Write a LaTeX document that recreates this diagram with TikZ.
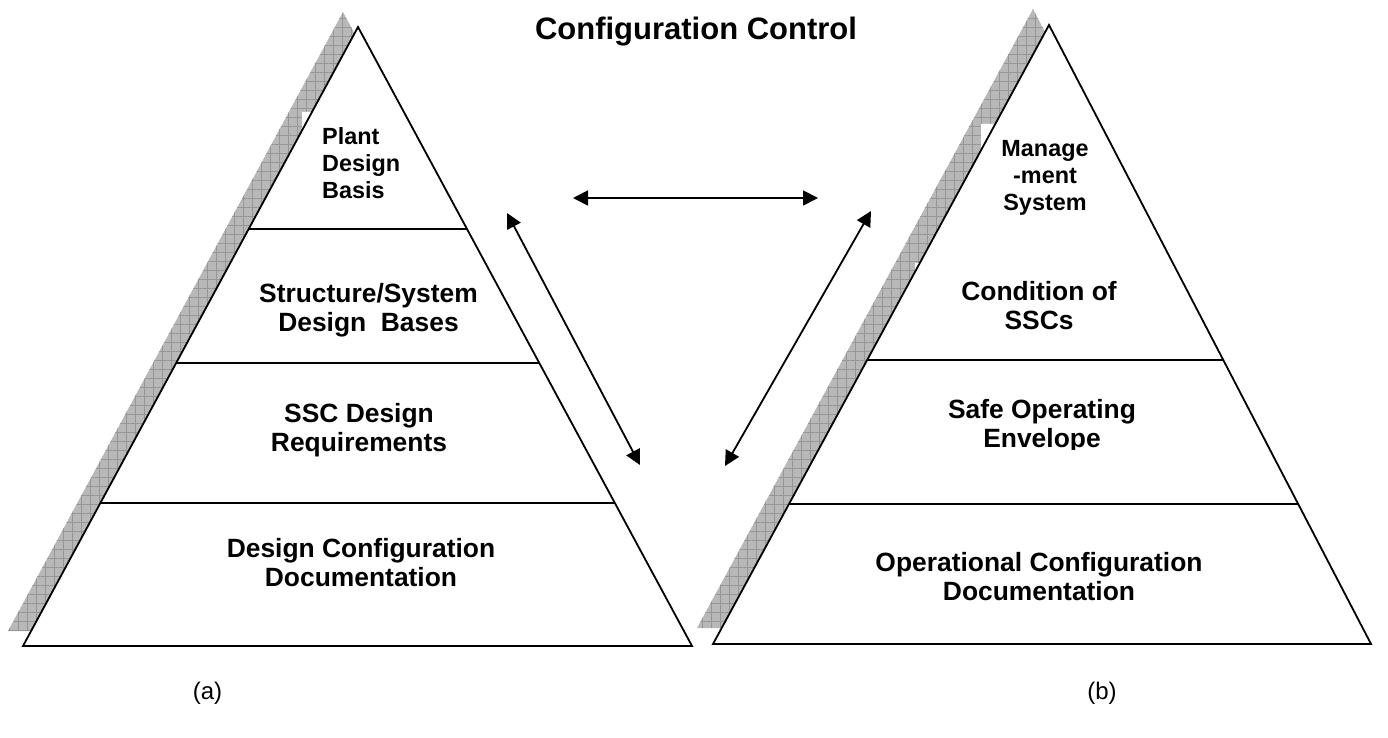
\documentclass[tikz,border=0pt]{standalone}
\usepackage{fontspec}
\setmainfont{Liberation Sans}
\usetikzlibrary{arrows.meta,patterns.meta,calc}

\definecolor{shadegray}{RGB}{184,184,184}
\definecolor{hatchgray}{RGB}{150,150,150}

\tikzset{
  pyr/.style={draw=black, line width=1.8pt, fill=white, line join=miter},
  tier/.style={line width=1.8pt},
  shadowfill/.style={fill=shadegray},
  shadowhatch/.style={pattern={Hatch[distance=9pt,angle=0,line width=0.5pt]}, pattern color=hatchgray},
  link/.style={line width=1.8pt, {Triangle[length=15pt,width=15pt]}-{Triangle[length=15pt,width=15pt]}},
  lbl/.style={font=\bfseries\fontsize{26.4}{29}\selectfont, align=center, inner sep=0pt, anchor=base},
  smalllbl/.style={font=\bfseries\fontsize{23.4}{27}\selectfont, inner sep=0pt, anchor=base},
  caption/.style={font=\fontsize{24}{28}\selectfont, inner sep=0pt},
}

\begin{document}
\begin{tikzpicture}[x=1pt,y=-1pt]
  \useasboundingbox (0,0) rectangle (1388,738);

  % corners of the two pyramids
  \coordinate (LA) at (358,27);
  \coordinate (LL) at (23,646);
  \coordinate (LR) at (692,646);
  \coordinate (RA) at (1049,25);
  \coordinate (RL) at (713,644);
  \coordinate (RR) at (1371,644);

  % hatched drop shadows
  \foreach \sty in {shadowfill,shadowhatch}{
    \fill[\sty] ($(LA)+(-15,-15)$) -- ($(LL)+(-15,-15)$) -- ($(LR)+(-15,-15)$) -- cycle;
    \fill[\sty] ($(RA)+(-16,-16)$) -- ($(RL)+(-16,-16)$) -- ($(RR)+(-16,-16)$) -- cycle;
  }

  % text box corners showing over the shadows
  \fill[white] (302,112) -- (312.0,112) -- (302,130.5) -- cycle;
  \fill[white] (981,124) -- (995.3,124) -- (981,150.3) -- cycle;
  \fill[white] (915,263) -- (919.8,263) -- (915,271.9) -- cycle;

  % pyramid (a)
  \draw[pyr] (LA) -- (LL) -- (LR) -- cycle;
  \draw[tier] ($(LA)!0.3263!(LL)$) -- ($(LA)!0.3263!(LR)$);
  \draw[tier] ($(LA)!0.5428!(LL)$) -- ($(LA)!0.5428!(LR)$);
  \draw[tier] ($(LA)!0.7690!(LL)$) -- ($(LA)!0.7690!(LR)$);

  % pyramid (b)
  \draw[pyr] (RA) -- (RL) -- (RR) -- cycle;
  \draw[tier] ($(RA)!0.5412!(RL)$) -- ($(RA)!0.5412!(RR)$);
  \draw[tier] ($(RA)!0.7738!(RL)$) -- ($(RA)!0.7738!(RR)$);

  % title
  \node[font=\bfseries\fontsize{31}{36}\selectfont, inner sep=0pt, anchor=base] (title) at (696,40) {Configuration Control};

  % labels of pyramid (a) (placed by the baseline of their last line)
  \node[smalllbl, align=left, anchor=base west] (pdb) at (322,198) {Plant\\Design\\Basis};
  \node[lbl] (ssd) at (368.5,331) {Structure/System\\Design\ \ Bases};
  \node[lbl] (sdr) at (359,451) {SSC Design\\Requirements};
  \node[lbl] (dcd) at (361,586) {Design Configuration\\Documentation};

  % labels of pyramid (b)
  \node[smalllbl, align=center] (mgs) at (1045,210) {Manage\\-ment\\System};
  \node[lbl] (cos) at (1039,329) {Condition of\\SSCs};
  \begin{scope}
    \clip (800,380) rectangle (1300,449);
    \node[lbl] (soe) at (1042,447) {Safe Operating\\Envelope};
  \end{scope}
  \node[lbl] (ocd) at (1039,600) {Operational Configuration\\Documentation};

  % captions
  \node[caption] (capa) at (207.5,693) {(a)};
  \node[caption] (capb) at (1102,693) {(b)};

  % two-way links between the pyramids
  \coordinate (h1) at (573,198);
  \coordinate (h2) at (818,198);
  \coordinate (l1) at (507,213);
  \coordinate (l2) at (640,465);
  \coordinate (r1) at (871,211);
  \coordinate (r2) at (725,466);
  \draw[link] (h1) -- (h2);
  \draw[link] (l1) -- (l2);
  \draw[link] (r1) -- (r2);
\end{tikzpicture}
\end{document}
